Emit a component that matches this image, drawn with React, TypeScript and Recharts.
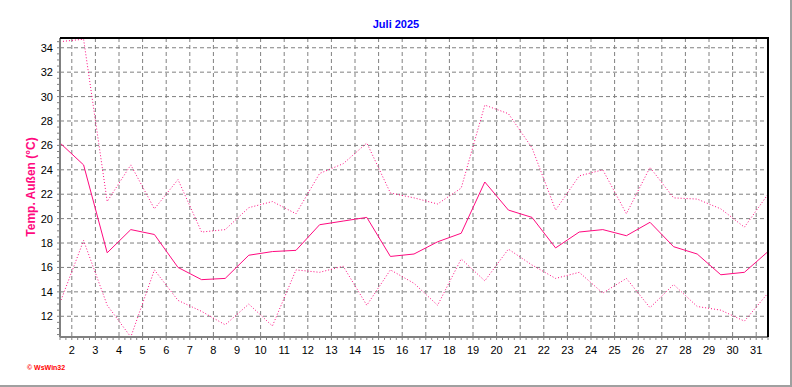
import React from "react";
import { LineChart, Line, XAxis, YAxis, CartesianGrid } from "recharts";

const days = [1,2,3,4,5,6,7,8,9,10,11,12,13,14,15,16,17,18,19,20,21,22,23,24,25,26,27,28,29,30,31];
const maxT = [34.5,34.7,21.4,24.4,20.8,23.2,18.9,19.1,20.9,21.4,20.4,23.7,24.5,26.2,22.1,21.7,21.2,22.5,29.3,28.6,25.8,20.7,23.5,24.0,20.4,24.2,21.7,21.6,20.8,19.3,22.0];
const meanT = [26.2,24.4,17.2,19.1,18.7,16.0,15.0,15.1,17.0,17.3,17.4,19.5,19.8,20.1,16.9,17.1,18.1,18.8,23.0,20.7,20.1,17.6,18.9,19.1,18.6,19.7,17.7,17.1,15.4,15.6,17.3];
const minT = [13.1,18.2,12.9,10.3,15.8,13.3,12.4,11.3,13.0,11.2,15.8,15.6,16.1,12.9,15.8,14.7,12.9,16.7,14.9,17.5,16.2,15.1,15.6,13.9,15.1,12.7,14.6,12.8,12.5,11.6,13.9];

const xLabels = [2,3,4,5,6,7,8,9,10,11,12,13,14,15,16,17,18,19,20,21,22,23,24,25,26,27,28,29,30,31];
const yLabels = [12,14,16,18,20,22,24,26,28,30,32,34];
const X_MIN = 1.5, X_MAX = 31.5, Y_MIN = 10.3, Y_MAX = 34.8;

const xTicks: number[] = [];
for (let i = 0; i <= 120; i++) xTicks.push(X_MIN + i * 0.25);
const yTicks: number[] = [];
for (let v = 10.5; v <= 34.5 + 1e-9; v += 0.5) yTicks.push(Math.round(v * 10) / 10);

const data = days.map((d, i) => ({ x: d + 0.5, max: maxT[i], mean: meanT[i], min: minT[i] }));

const PINK = "#ff0a80";
const FONT = "'Liberation Sans', Arial, sans-serif";

const W = 792, H = 387;
const M = { top: 38, right: 24, bottom: 0, left: 0 };
const YW = 60, XH = 50;
const PL = YW, PR = W - M.right, PT = M.top, PB = H - XH;

const XTick = (props: any) => {
  const { x, y, payload } = props;
  const v = payload.value;
  const isMajor = Math.abs(v - Math.round(v)) < 1e-6 && xLabels.includes(Math.round(v));
  return (
    <g>
      <line x1={x} x2={x} y1={y} y2={y + 3} stroke="#808080" strokeWidth={1} />
      {isMajor && (
        <text x={x} y={y + 17} textAnchor="middle" fontSize={11} fontFamily={FONT} fill="#000">
          {Math.round(v)}
        </text>
      )}
    </g>
  );
};

const YTick = (props: any) => {
  const { x, y, payload } = props;
  const v = payload.value;
  const isMajor = yLabels.some((l) => Math.abs(l - v) < 1e-6);
  return (
    <g>
      <line x1={x - 3} x2={x} y1={y} y2={y} stroke="#808080" strokeWidth={1} />
      {isMajor && (
        <text x={x - 7} y={y + 4} textAnchor="end" fontSize={11} fontFamily={FONT} fill="#000">
          {v}
        </text>
      )}
    </g>
  );
};

export default function App() {
  const pw = PR - PL, ph = PB - PT;
  const vGen = () => xLabels.map((d) => PL + ((d - X_MIN) / (X_MAX - X_MIN)) * pw);
  const hGen = () => yLabels.map((v) => PT + ((Y_MAX - v) / (Y_MAX - Y_MIN)) * ph);
  return (
    <div style={{ position: "absolute", left: 0, top: 0, width: W, height: H, background: "#fff" }}>
      <LineChart width={W} height={H} data={data} margin={M}>
        <CartesianGrid
          stroke="#808080"
          strokeDasharray="4 3"
          verticalCoordinatesGenerator={vGen}
          horizontalCoordinatesGenerator={hGen}
        />
        <XAxis
          dataKey="x"
          type="number"
          domain={[X_MIN, X_MAX]}
          ticks={xTicks}
          interval={0}
          height={XH}
          tickSize={0}
          tickMargin={0}
          tickLine={false}
          axisLine={{ stroke: "#808080", strokeWidth: 2 }}
          tick={<XTick />}
          allowDataOverflow
        />
        <YAxis
          type="number"
          domain={[Y_MIN, Y_MAX]}
          ticks={yTicks}
          interval={0}
          width={YW}
          tickSize={0}
          tickMargin={0}
          tickLine={false}
          axisLine={{ stroke: "#808080", strokeWidth: 2 }}
          tick={<YTick />}
          allowDataOverflow
        />
        <Line dataKey="max" type="linear" stroke={PINK} strokeWidth={1} strokeDasharray="1 2" dot={false} isAnimationActive={false} />
        <Line dataKey="mean" type="linear" stroke={PINK} strokeWidth={1} dot={false} isAnimationActive={false} />
        <Line dataKey="min" type="linear" stroke={PINK} strokeWidth={1} strokeDasharray="1 2" dot={false} isAnimationActive={false} />
      </LineChart>
      <svg width={W} height={H} style={{ position: "absolute", left: 0, top: 0, pointerEvents: "none" }}>
        <line x1={PL} x2={PR + 1} y1={PT} y2={PT} stroke="#000" strokeWidth={2} />
        <line x1={PR} x2={PR} y1={PT} y2={PB} stroke="#000" strokeWidth={2} />
        <line x1={W - 1} x2={W - 1} y1={0} y2={H} stroke="#a0a0a0" strokeWidth={2} />
        <line x1={0} x2={W} y1={H - 1} y2={H - 1} stroke="#a0a0a0" strokeWidth={2} />
        <text x={396} y={28} textAnchor="middle" fontSize={11} fontWeight="bold" fontFamily={FONT} fill="#0000ff">
          Juli 2025
        </text>
        <text
          x={0}
          y={0}
          transform="translate(35,187) rotate(-90)"
          textAnchor="middle"
          fontSize={12}
          fontWeight="bold"
          fontFamily={FONT}
          fill={PINK}
        >
          Temp. Außen (°C)
        </text>
        <text x={27} y={370} fontSize={7} fontWeight="bold" fontFamily={FONT} fill="#ff0000">
          © WsWin32
        </text>
      </svg>
    </div>
  );
}
